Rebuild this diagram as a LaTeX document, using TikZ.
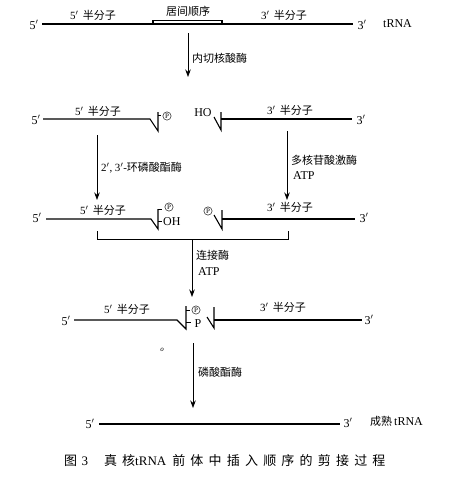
\documentclass[tikz,border=0pt]{standalone}
\usepackage{fontspec}
\setmainfont{Liberation Serif}
\newfontfamily\cjk{Noto Sans CJK SC}
\newfontfamily\cjkcap[LetterSpace=40]{Noto Sans CJK SC}
\usetikzlibrary{arrows.meta}
\newcommand{\pr}{$^{\prime}$}
\tikzset{
  strand/.style={line width=1.1pt},
  rxn/.style={line width=0.7pt,-{Stealth[length=7.5pt,width=5.5pt]}},
  lbl/.style={font=\cjk\fontsize{11}{12}\selectfont,inner sep=0},
  end/.style={font=\fontsize{12}{13}\selectfont,inner sep=0},
  cp/.style={circle,draw,line width=0.45pt,inner sep=0.8pt,font=\fontsize{7}{8}\selectfont},
  grp/.style={font=\fontsize{12}{13}\selectfont,inner sep=0},
  tick/.style={line width=0.7pt}
}
\begin{document}
\begin{tikzpicture}[x=1pt,y=-1pt]
\useasboundingbox (0,0) rectangle (450,477);
% ---- row 1
\node[end] (e5a) at (34,25) {5\pr};
\node[end] (e3a) at (362,25) {3\pr};
\node[end,anchor=west] (t1) at (383,24) {tRNA};
\node[lbl] (h5a) at (93,15) {{\rmfamily 5\pr}\, 半分子};
\node[lbl] (ia) at (188,11) {居间顺序};
\node[lbl] (h3a) at (284,15) {{\rmfamily 3\pr}\, 半分子};
\draw[strand] (42,24) -- (353,24);
\draw[strand] (153,20.5) rectangle (222,24);
\coordinate (a1s) at (188,33); \coordinate (a1e) at (188,77);
\draw[rxn] (a1s) -- (a1e);
\node[lbl,anchor=west] (l1) at (192,58) {内切核酸酶};
% ---- row 2
\node[end] (e5b) at (36,120) {5\pr};
\node[end] (e3b) at (361,120) {3\pr};
\node[lbl] (h5b) at (98,111) {{\rmfamily 5\pr}\, 半分子};
\node[lbl] (h3b) at (290,110) {{\rmfamily 3\pr}\, 半分子};
\draw[strand] (43,119) -- (150,119) -- (158,131) -- (158,112);
\draw[tick] (158,115) -- (161,115);
\node[cp] (pb1) at (167,116) {P};
\node[grp] (ho) at (203,113) {HO};
\draw[strand] (214,117) -- (221,130) -- (221,112);
\draw[strand] (221,119) -- (352,119);
\coordinate (a2s) at (97,135); \coordinate (a2e) at (97,200);
\draw[rxn] (a2s) -- (a2e);
\node[lbl,anchor=west] (l2) at (101,168) {{\rmfamily 2\pr, 3\pr-}环磷酸酯酶};
\coordinate (a3s) at (287,131); \coordinate (a3e) at (287,200);
\draw[rxn] (a3s) -- (a3e);
\node[lbl,anchor=west] (l3) at (291,160) {多核苷酸激酶};
\node[grp,anchor=west] (l3b) at (293,176) {ATP};
% ---- row 3
\node[end] (e5c) at (37,218) {5\pr};
\node[end] (e3c) at (364,218) {3\pr};
\node[lbl] (h5c) at (103,210) {{\rmfamily 5\pr}\, 半分子};
\node[lbl] (h3c) at (290,207) {{\rmfamily 3\pr}\, 半分子};
\draw[strand] (46,219) -- (151,219) -- (158,229) -- (158,209);
\draw[tick] (158,209.5) -- (162,209.5);
\node[cp] (pc1) at (169,207) {P};
\draw[tick] (158,221) -- (162,221);
\node[grp,anchor=west] (oh) at (163,222) {OH};
\node[cp] (pc2) at (208,211) {P};
\draw[strand] (214,215) -- (222,229) -- (222,210);
\draw[strand] (222,219) -- (355,219);
\draw[line width=0.8pt] (97,231) -- (97,239) -- (288,239) -- (288,231);
\coordinate (a4s) at (192,239); \coordinate (a4e) at (192,297);
\draw[rxn] (a4s) -- (a4e);
\node[lbl,anchor=west] (l4) at (196,255) {连接酶};
\node[grp,anchor=west] (l4b) at (198,272) {ATP};
% ---- row 4
\node[end] (e5d) at (66,321) {5\pr};
\node[end] (e3d) at (369,320) {3\pr};
\node[lbl] (h5d) at (127,309) {{\rmfamily 5\pr}\, 半分子};
\node[lbl] (h3d) at (283,307) {{\rmfamily 3\pr}\, 半分子};
\draw[strand] (74,320) -- (177,320) -- (186,329) -- (186,306);
\draw[tick] (186,310) -- (190,310);
\node[cp] (pd1) at (196,310) {P};
\draw[tick] (186,322) -- (191,322);
\node[grp] (pd2) at (198,324) {P};
\draw[strand] (207,317) -- (214,328) -- (214,307);
\draw[strand] (214,320) -- (362,320);
\node[font=\fontsize{7}{8}\selectfont,inner sep=0] (stray) at (162,350) {\textit{o}};
\coordinate (a5s) at (193,343); \coordinate (a5e) at (193,408);
\draw[rxn] (a5s) -- (a5e);
\node[lbl,anchor=west] (l5) at (198,372) {磷酸酯酶};
% ---- row 5
\node[end] (e5e) at (90,424) {5\pr};
\node[end] (e3e) at (348,423) {3\pr};
\draw[strand] (99,424) -- (340,424);
\node[lbl,anchor=west] (mt) at (370,421) {成熟{\rmfamily\fontsize{12}{13}\selectfont\,tRNA}};
% ---- caption
\node[inner sep=0,anchor=west,font=\fontsize{13}{14}\selectfont] (cap) at (64,461) {{\cjk 图}\,\,3\hspace{16pt}{\cjkcap 真核}{\rmfamily tRNA}\hspace{6pt}{\cjkcap 前体中插入顺序的剪接过程}};
\end{tikzpicture}
\end{document}
